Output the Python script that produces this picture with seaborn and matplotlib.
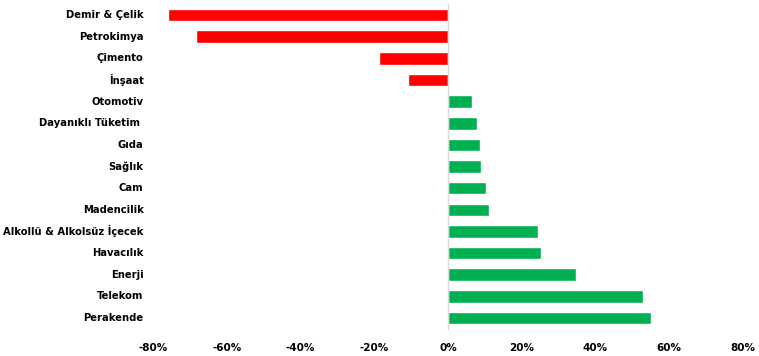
import numpy as np
import pandas as pd
import matplotlib
matplotlib.use("Agg")
import matplotlib.pyplot as plt
import seaborn as sns
from matplotlib.ticker import FixedLocator

categories = ["Demir & Çelik", "Petrokimya", "Çimento", "İnşaat", "Otomotiv",
              "Dayanıklı Tüketim ", "Gıda", "Sağlık", "Cam", "Madencilik",
              "Alkollü & Alkolsüz İçecek", "Havacılık", "Enerji", "Telekom", "Perakende"]
changes = [-75.9, -68.3, -18.7, -10.8, 6.5, 7.9, 8.6, 8.9, 10.2, 11.1,
           24.4, 25.2, 34.7, 52.8, 55.0]
xticks = [-80, -60, -40, -20, 0, 20, 40, 60, 80]

sns.set_style("white")
plt.rcParams['font.family'] = ['DejaVu Sans']

df = pd.DataFrame({"sector": categories, "change": changes})
colors = ["#FF0000" if v < 0 else "#00B050" for v in changes]

fig = plt.figure(figsize=(7.59, 3.56), dpi=100)
ax = fig.add_axes([0.2016, 0.0764, 0.7774, 0.9116])
sns.barplot(data=df, x="change", y="sector", hue="sector", palette=colors,
            legend=False, width=0.58, saturation=1, ax=ax)

ax.set_xlim(-80, 80)
ax.set_ylim(len(categories) - 0.5, -0.5)
ax.set_xticks(xticks)
ax.set_xticklabels([f"{t}%" for t in xticks], fontsize=7.5, fontweight="bold")
ax.tick_params(axis="x", length=0, pad=10, labelcolor="black")
ax.set_xlabel("")
ax.set_ylabel("")

for s in ["top", "right", "bottom"]:
    ax.spines[s].set_visible(False)
ax.spines["left"].set_position(("data", 0))
ax.spines["left"].set_color("#D9D9D9")
ax.spines["left"].set_linewidth(1)

ax.yaxis.set_minor_locator(FixedLocator(np.arange(-0.5, len(categories), 1)))
ax.tick_params(axis="y", which="major", length=0, labelleft=False)
ax.tick_params(axis="y", which="minor", length=3, color="#D9D9D9", direction="out")

trans = ax.get_yaxis_transform()
for i, name in enumerate(categories):
    ax.text(-0.016, i, name, transform=trans, ha="right", va="center",
            fontsize=7.2, fontweight="bold", color="black")

fig.savefig("out.png", dpi=100)
